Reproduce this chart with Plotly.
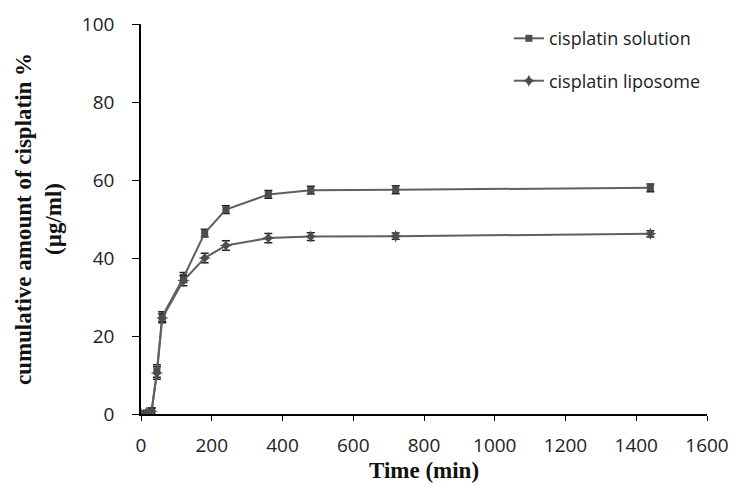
import plotly.graph_objects as go

time_min = [0, 15, 30, 45, 60, 120, 180, 240, 360, 480, 720, 1440]
solution = [0, 0.3, 0.8, 11.0, 25.0, 35.0, 46.4, 52.4, 56.3, 57.4, 57.5, 58.0]
solution_err = [0.5, 0.5, 0.8, 1.6, 1.2, 1.3, 1.0, 1.0, 1.0, 1.0, 1.0, 1.0]
liposome = [0, 0.3, 0.7, 10.5, 24.6, 34.2, 40.0, 43.2, 45.1, 45.5, 45.6, 46.2]
liposome_err = [0.5, 0.5, 0.8, 1.6, 1.2, 1.3, 1.2, 1.2, 1.2, 1.0, 0.8, 0.8]

line_col = "#5f5f5f"
mark_col = "#4d4d4d"

fig = go.Figure()
fig.add_trace(go.Scatter(
    x=time_min, y=solution, name="cisplatin solution", mode="lines+markers",
    line=dict(color=line_col, width=2),
    marker=dict(symbol="square", size=7, color=mark_col),
    error_y=dict(type="data", array=solution_err, color="#222222", thickness=1.5, width=4),
    legendgroup="a",
))
fig.add_trace(go.Scatter(
    x=time_min, y=liposome, name="cisplatin liposome", mode="lines+markers",
    line=dict(color=line_col, width=2),
    marker=dict(symbol="star-diamond", size=9, color=mark_col),
    error_y=dict(type="data", array=liposome_err, color="#222222", thickness=1.5, width=4),
    legendgroup="b",
))

tick_font = dict(family="Open Sans, Liberation Sans, sans-serif", size=19, color="#222222")
title_font = dict(family="Liberation Serif, Times New Roman, serif", size=23, color="#111111")

fig.update_layout(
    width=750, height=500,
    margin=dict(l=141, r=43, t=24, b=86),
    paper_bgcolor="white", plot_bgcolor="white",
    font=dict(family="Open Sans, Liberation Sans, sans-serif", size=16, color="#222222"),
    legend=dict(
        x=0.65, y=1.01, xanchor="left", yanchor="top",
        bgcolor="rgba(0,0,0,0)", tracegroupgap=16,
        font=dict(family="Open Sans, sans-serif", size=18, color="#222222"),
    ),
    xaxis=dict(
        range=[0, 1600], tickvals=[0, 200, 400, 600, 800, 1000, 1200, 1400, 1600],
        showgrid=False, zeroline=False, showline=True, linecolor="black", linewidth=1.5,
        ticks="outside", ticklen=5, tickcolor="black", tickfont=tick_font,
        ticklabelstandoff=8,
        title=dict(text="<b>Time (min)</b>", standoff=2, font=title_font),
    ),
    yaxis=dict(
        range=[0, 100], tickvals=[0, 20, 40, 60, 80, 100],
        showgrid=False, zeroline=False, showline=True, linecolor="black", linewidth=1.5,
        ticks="outside", ticklen=7, tickcolor="black", tickfont=tick_font,
        ticklabelstandoff=14,
        title=dict(text="<b>cumulative amount of cisplatin %<br>(µg/ml)</b>", standoff=14, font=title_font),
    ),
)

fig.write_html("out.html")
